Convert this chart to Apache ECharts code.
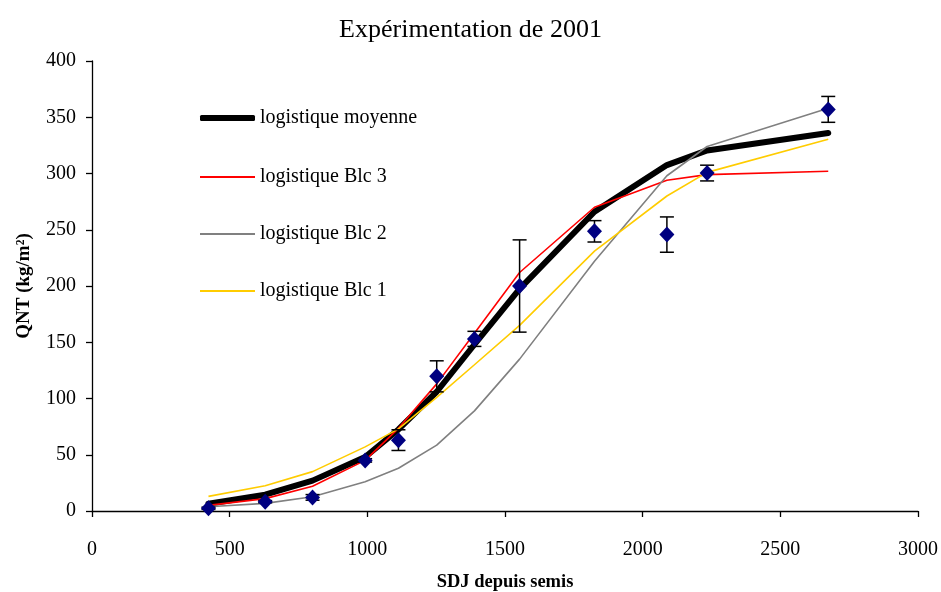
<!DOCTYPE html>
<html><head><meta charset="utf-8">
<script src="https://cdn.jsdelivr.net/npm/echarts@6/dist/echarts.min.js"></script>
<style>html,body{margin:0;padding:0;background:#fff}#c{width:941px;height:592px}</style>
</head><body><div id="c"></div>
<script>
var xs = [423, 629, 801, 992, 1113, 1252, 1389, 1553, 1825, 2088, 2234, 2674];
var obsMean = [2.4, 8.3, 12.1, 45, 63, 119.7, 153, 200, 248.6, 245.7, 300.4, 357];
var obsErr = [1, 1, 2.5, 1.5, 9.2, 13.8, 6.7, 41, 9.5, 15.7, 7, 11.5];
var logMoyenne = [6.5, 14.5, 27, 48, 72.5, 106, 148, 197.5, 266, 307.5, 320.5, 336];
var logBlc3 = [5, 11, 22, 45, 73.5, 113, 158, 212, 270, 294, 299, 302];
var logBlc2 = [3.8, 6.8, 12.7, 26, 38, 58.5, 89, 135, 222, 298, 324, 358];
var logBlc1 = [13, 22.5, 35, 57, 73, 101, 130, 165, 231, 280, 301, 330.5];
var names = ['logistique moyenne', 'logistique Blc 3', 'logistique Blc 2', 'logistique Blc 1'];

function pairs(ys){ return xs.map(function(x,i){ return [x, ys[i]]; }); }
var errData = xs.map(function(x,i){ return [x, obsMean[i]-obsErr[i], obsMean[i]+obsErr[i]]; });

var font = 'Liberation Serif, Times New Roman, serif';
var legendCenters = [113, 172, 229, 286];
var legendHeights = [6, 2, 2, 2];
var legends = names.map(function(n, i){
  return {orient: 'vertical', left: 200, top: legendCenters[i] - 6, padding: 0, itemWidth: 55, itemHeight: legendHeights[i],
    icon: i === 0 ? 'roundRect' : 'rect', data: [n], selectedMode: false,
    textStyle: {fontFamily: font, fontSize: 20, color: '#000', lineHeight: 22}};
});

var chart = echarts.init(document.getElementById('c'));
chart.setOption({
  animation: false,
  backgroundColor: '#fff',
  textStyle: {fontFamily: font},
  title: {text: 'Expérimentation de 2001', left: 'center', top: 12,
    textStyle: {fontFamily: font, fontSize: 26, fontWeight: 'normal', color: '#000'}},
  grid: {left: 92, right: 23, top: 61, bottom: 81, outerBoundsMode: 'none', containLabel: false},
  legend: legends,
  xAxis: {type: 'value', min: 0, max: 3000, interval: 500,
    name: 'SDJ depuis semis', nameLocation: 'middle', nameGap: 62,
    nameTextStyle: {fontFamily: font, fontSize: 18.5, fontWeight: 'bold', color: '#000'},
    axisLine: {lineStyle: {color: '#000', width: 1.3}},
    axisTick: {show: true, length: 6, lineStyle: {color: '#000', width: 1.3}},
    axisLabel: {fontFamily: font, fontSize: 20, color: '#000', margin: 29,
      formatter: function(v){ return String(v); }},
    splitLine: {show: false}},
  yAxis: {type: 'value', min: 0, max: 400, interval: 50,
    name: 'QNT (kg/m²)', nameLocation: 'middle', nameGap: 58,
    nameTextStyle: {fontFamily: font, fontSize: 19, fontWeight: 'bold', color: '#000'},
    axisLine: {show: true, lineStyle: {color: '#000', width: 1.3}},
    axisTick: {show: true, length: 6, lineStyle: {color: '#000', width: 1.3}},
    axisLabel: {fontFamily: font, fontSize: 20, color: '#000', margin: 16,
      formatter: function(v){ return String(v); }},
    splitLine: {show: false}},
  series: [
    {name: names[0], type: 'line', data: pairs(logMoyenne), symbol: 'none', z: 2,
      lineStyle: {color: '#000', width: 6, cap: 'round', join: 'round'}, itemStyle: {color: '#000'}},
    {name: names[1], type: 'line', data: pairs(logBlc3), symbol: 'none', z: 3,
      lineStyle: {color: '#ff0000', width: 1.6}, itemStyle: {color: '#ff0000'}},
    {name: names[2], type: 'line', data: pairs(logBlc2), symbol: 'none', z: 3,
      lineStyle: {color: '#808080', width: 1.6}, itemStyle: {color: '#808080'}},
    {name: names[3], type: 'line', data: pairs(logBlc1), symbol: 'none', z: 3,
      lineStyle: {color: '#ffcc00', width: 1.6}, itemStyle: {color: '#ffcc00'}},
    {name: 'err', type: 'custom', z: 4, data: errData,
      renderItem: function(params, api){
        var x = api.value(0);
        var lo = api.coord([x, api.value(1)]);
        var hi = api.coord([x, api.value(2)]);
        var hw = 7;
        var st = {stroke: '#000', lineWidth: 1.5};
        return {type: 'group', children: [
          {type: 'line', shape: {x1: lo[0], y1: lo[1], x2: hi[0], y2: hi[1]}, style: st},
          {type: 'line', shape: {x1: lo[0]-hw, y1: lo[1], x2: lo[0]+hw, y2: lo[1]}, style: st},
          {type: 'line', shape: {x1: hi[0]-hw, y1: hi[1], x2: hi[0]+hw, y2: hi[1]}, style: st}
        ]};
      }},
    {name: 'obs', type: 'scatter', z: 5, data: pairs(obsMean), symbol: 'diamond', symbolSize: [15, 16],
      itemStyle: {color: '#000080', opacity: 1}}
  ]
});
</script></body></html>
